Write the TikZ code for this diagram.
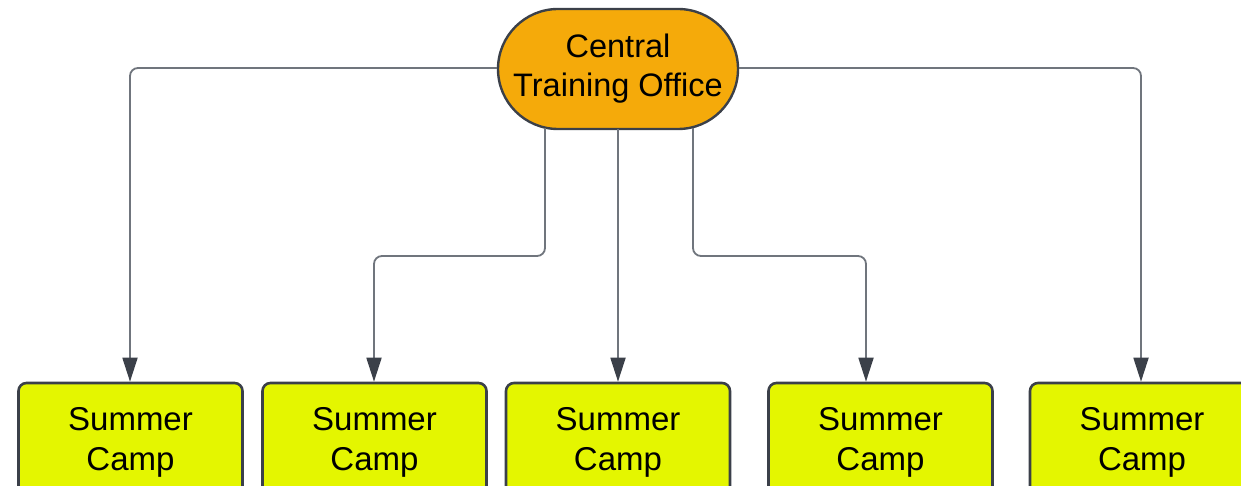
\documentclass[tikz,border=0pt]{standalone}
\usepackage{fontspec}
\setmainfont{Liberation Sans}
\usetikzlibrary{arrows.meta,calc}
\definecolor{ovalfill}{HTML}{F5AA0A}
\definecolor{campfill}{HTML}{E4F600}
\definecolor{edgecol}{HTML}{3B4049}
\definecolor{linecol}{HTML}{70757D}
\tikzset{
  office/.style={draw=edgecol, line width=2.4pt, fill=ovalfill, rounded corners=60pt,
    minimum width=240pt, minimum height=120pt, inner sep=0pt, align=center,
    font=\fontsize{32.5}{39}\selectfont},
  camp/.style={draw=edgecol, line width=2.6pt, fill=campfill, rounded corners=8pt,
    minimum width=224pt, minimum height=118pt, inner sep=0pt, align=center,
    font=\fontsize{33}{40}\selectfont},
  conn/.style={draw=linecol, line width=1.8pt, rounded corners=8pt,
    -{Triangle[length=24pt,width=15pt,fill=edgecol,color=edgecol]}},
}
\begin{document}
\begin{tikzpicture}[x=1pt,y=-1pt]
\useasboundingbox (0,0) rectangle (1241,486);
\node[office] (ct) at (618,69) {Central\\Training Office};
\node[camp] (s1) at (130.5,442) {Summer\\Camp};
\node[camp] (s2) at (374.5,442) {Summer\\Camp};
\node[camp] (s3) at (618,442) {Summer\\Camp};
\node[camp] (s4) at (880.5,442) {Summer\\Camp};
\node[camp] (s5) at (1142,442) {Summer\\Camp};
\draw[conn] ([yshift=1pt]ct.west) -| ([xshift=-0.5pt]s1.north);
\draw[conn] ([yshift=1pt]ct.east) -| ([xshift=-1pt]s5.north);
\draw[conn] ([xshift=-73pt,yshift=2pt]ct.south) -- ([xshift=-73pt]ct.south |- 0,256) -| ([xshift=-0.5pt]s2.north);
\draw[conn] ([yshift=1pt]ct.south) -- (s3.north);
\draw[conn] ([xshift=75pt,yshift=2pt]ct.south) -- ([xshift=75pt]ct.south |- 0,256) -| ([xshift=-14.5pt]s4.north);
\end{tikzpicture}
\end{document}
